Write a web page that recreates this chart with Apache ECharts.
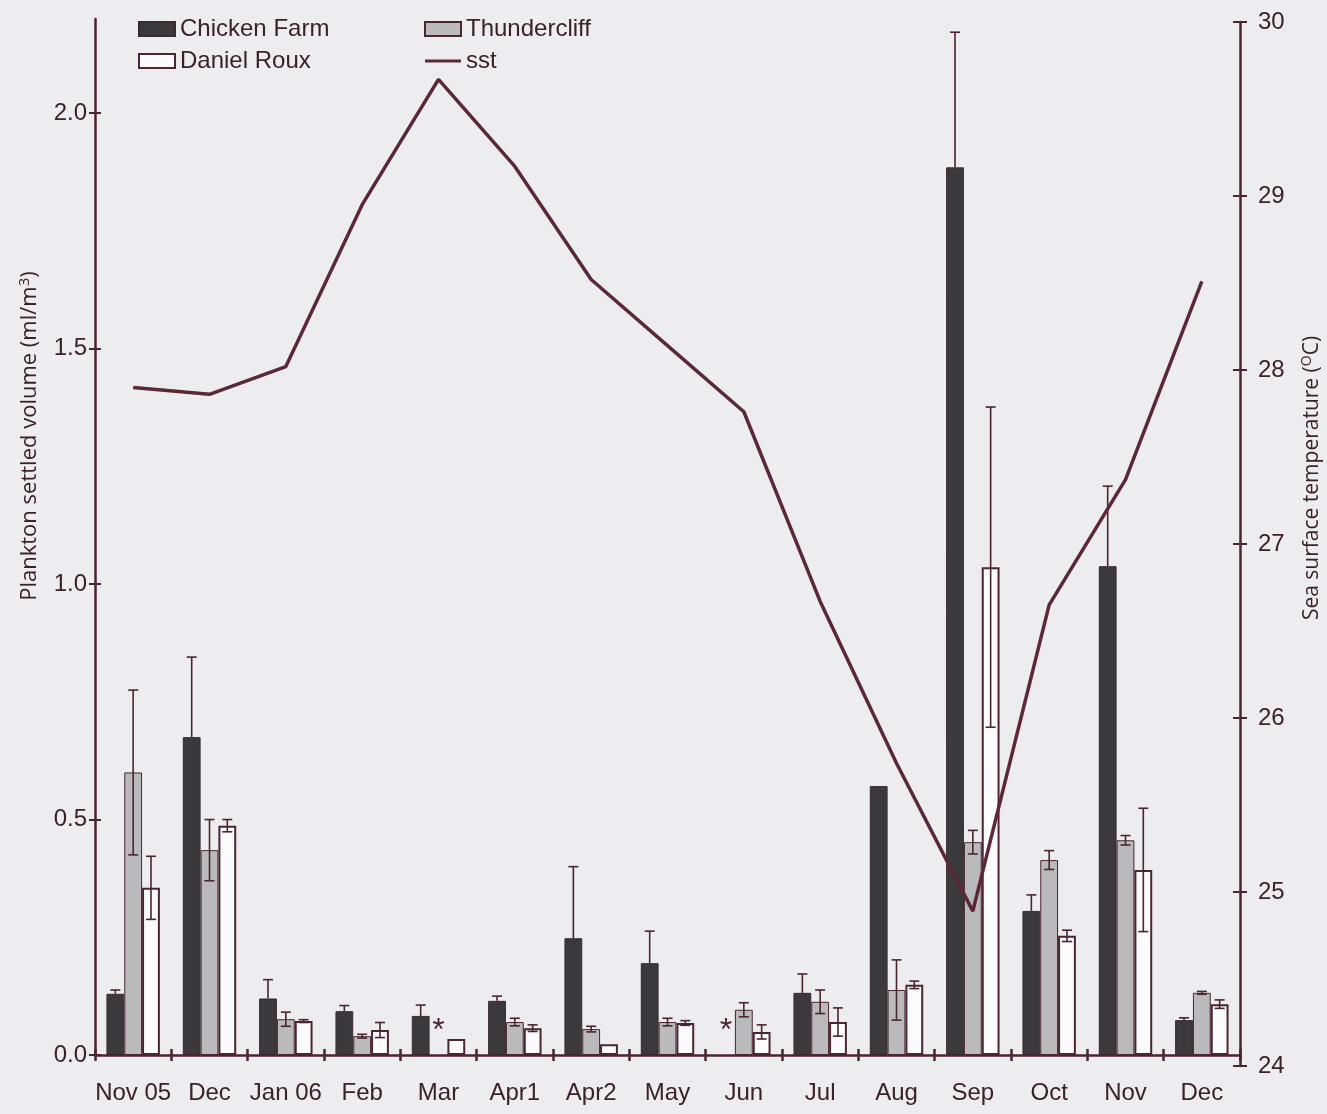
<!DOCTYPE html>
<html>
<head>
<meta charset="utf-8">
<title>Plankton settled volume and SST</title>
<script src="https://cdn.jsdelivr.net/npm/echarts@6/dist/echarts.min.js"></script>
<style>
  html, body { margin: 0; padding: 0; background: #edecf1; }
  #chart { width: 1327px; height: 1114px; }
</style>
</head>
<body>
<div id="chart"></div>
<script>
// Sampling periods
const months = ['Nov 05', 'Dec', 'Jan 06', 'Feb', 'Mar', 'Apr1', 'Apr2', 'May', 'Jun', 'Jul', 'Aug', 'Sep', 'Oct', 'Nov', 'Dec'];

// Mean plankton settled volume (ml/m3) per site, with standard errors
const chickenFarm   = [0.130, 0.675, 0.120, 0.093, 0.083, 0.115, 0.248, 0.195, null, 0.132, 0.571, 1.885, 0.306, 1.038, 0.074];
const chickenFarmSE = [0.008, 0.170, 0.040, 0.012, 0.023, 0.010, 0.152, 0.068, null, 0.040, 0.000, 0.287, 0.034, 0.170, 0.005];
const thundercliff   = [0.600, 0.435, 0.076, 0.040, null, 0.070, 0.055, 0.070, 0.096, 0.113, 0.138, 0.452, 0.414, 0.456, 0.132];
const thundercliffSE = [0.175, 0.065, 0.015, 0.004, null, 0.008, 0.006, 0.008, 0.015, 0.025, 0.064, 0.025, 0.020, 0.010, 0.003];
const danielRoux   = [0.355, 0.487, 0.072, 0.053, 0.034, 0.057, 0.023, 0.068, 0.049, 0.070, 0.149, 1.036, 0.253, 0.393, 0.108];
const danielRouxSE = [0.067, 0.013, 0.003, 0.016, 0.000, 0.007, 0.000, 0.005, 0.015, 0.030, 0.008, 0.340, 0.012, 0.131, 0.009];

// Sea surface temperature (°C)
const sst = [27.90, 27.86, 28.02, 28.95, 29.67, 29.17, 28.52, 28.14, 27.76, 26.67, 25.74, 24.89, 26.65, 27.37, 28.51];

// Tick labels
const volumeTicks = [0, 0.5, 1.0, 1.5, 2.0];
const tempTicks = [24, 25, 26, 27, 28, 29, 30];

// Samples not collected: [period index, site slot]
const notSampled = [[4, 1], [8, 0]];

const INK = '#4b2530';
const LINE = '#5a2836';
const TEXT = '#3a2228';
const CAT_GAP = 0.30;
const FONT = '"Liberation Sans", Arial, sans-serif';
const NAME_FONT = '"Open Sans", "Noto Sans", sans-serif';

// Error bar rows: [period index, site slot, mean, se, upper only]
function errRows(vals, ses, slot, upOnly) {
  const rows = [];
  vals.forEach((v, i) => {
    if (v != null && ses[i] != null && ses[i] > 0) rows.push([i, slot, v, ses[i], upOnly ? 1 : 0]);
  });
  return rows;
}
const errorData = []
  .concat(errRows(chickenFarm, chickenFarmSE, 0, true))
  .concat(errRows(thundercliff, thundercliffSE, 1, false))
  .concat(errRows(danielRoux, danielRouxSE, 2, false));

function slotX(api, ci, v, slot) {
  const band = api.size([1, 0])[0];
  const bw = band * (1 - CAT_GAP) / 3;
  return api.coord([ci, v])[0] + (slot - 1) * bw;
}

function renderError(params, api) {
  const ci = api.value(0), slot = api.value(1), v = api.value(2), e = api.value(3), up = api.value(4);
  const x = slotX(api, ci, v, slot);
  const yTop = api.coord([ci, v + e])[1];
  const yBot = api.coord([ci, up ? v : Math.max(0, v - e)])[1];
  const cap = 5;
  const style = { stroke: INK, lineWidth: 1.6, fill: null };
  const children = [
    { type: 'line', shape: { x1: x, y1: yTop, x2: x, y2: yBot }, style },
    { type: 'line', shape: { x1: x - cap, y1: yTop, x2: x + cap, y2: yTop }, style }
  ];
  if (!up) children.push({ type: 'line', shape: { x1: x - cap, y1: yBot, x2: x + cap, y2: yBot }, style });
  return { type: 'group', children };
}

function renderStar(params, api) {
  const ci = api.value(0), slot = api.value(1);
  const x = slotX(api, ci, 0, slot);
  const y = api.coord([ci, 0])[1];
  return {
    type: 'text',
    x: x, y: y - 24,
    style: { text: '*', fill: INK, font: '32px ' + FONT, align: 'center', verticalAlign: 'middle' }
  };
}

const chart = echarts.init(document.getElementById('chart'));

const legendText = { fontSize: 24, color: TEXT, fontFamily: FONT, lineHeight: 24 };
const lineIcon = 'path://M0,0 L40,0 L40,3.5 L0,3.5 Z';

const option = {
  backgroundColor: '#edecf1',
  animation: false,
  textStyle: { fontFamily: FONT, color: TEXT },
  grid: [
    { left: 95, right: 87, top: 19, bottom: 59 },
    { left: 95, right: 87, top: 22, bottom: 48 }
  ],
  legend: [
    {
      left: 133, top: 12, orient: 'vertical', itemGap: 8,
      itemWidth: 36, itemHeight: 14, icon: 'rect',
      data: ['Chicken Farm', 'Daniel Roux'],
      textStyle: legendText
    },
    {
      left: 419, top: 12, orient: 'vertical', itemGap: 8,
      itemWidth: 36, itemHeight: 14,
      data: [{ name: 'Thundercliff', icon: 'rect' }, { name: 'sst', icon: lineIcon }],
      textStyle: legendText
    }
  ],
  xAxis: [
    {
      type: 'category', gridIndex: 0, data: months, position: 'bottom',
      axisLine: { lineStyle: { color: INK, width: 2.5 } },
      axisTick: { show: true, length: 6, lineStyle: { color: INK, width: 2.5 } },
      axisLabel: { fontSize: 24, color: TEXT, margin: 26, interval: 0, fontFamily: FONT },
      splitLine: { show: false }
    },
    {
      type: 'category', gridIndex: 0, data: months, position: 'bottom',
      axisLine: { show: false },
      axisTick: { show: true, inside: true, length: 6, lineStyle: { color: INK, width: 2.5 } },
      axisLabel: { show: false },
      splitLine: { show: false }
    },
    {
      type: 'category', gridIndex: 1, data: months, show: false
    }
  ],
  yAxis: [
    {
      type: 'value', gridIndex: 0, position: 'left', min: 0, max: 2.2,
      axisLine: { show: true, lineStyle: { color: INK, width: 2.5 } },
      axisTick: { show: true, length: 6, customValues: volumeTicks, lineStyle: { color: INK, width: 2 } },
      axisLabel: {
        fontSize: 24, color: TEXT, margin: 8, fontFamily: FONT,
        customValues: volumeTicks, formatter: v => v.toFixed(1)
      },
      splitLine: { show: false }
    },
    {
      type: 'value', gridIndex: 0, position: 'left', min: 0, max: 2.2,
      axisLine: { show: false },
      axisTick: { show: true, inside: true, length: 6, customValues: volumeTicks, lineStyle: { color: INK, width: 2 } },
      axisLabel: { show: false },
      splitLine: { show: false }
    },
    {
      type: 'value', gridIndex: 1, position: 'right', min: 24, max: 30, interval: 1,
      axisLine: { show: true, lineStyle: { color: INK, width: 2.5 } },
      axisTick: { show: true, length: 7, customValues: tempTicks, lineStyle: { color: INK, width: 2 } },
      axisLabel: { fontSize: 24, color: TEXT, margin: 18, fontFamily: FONT, customValues: tempTicks },
      splitLine: { show: false }
    },
    {
      type: 'value', gridIndex: 1, position: 'right', min: 24, max: 30, interval: 1,
      axisLine: { show: false },
      axisTick: { show: true, inside: true, length: 7, customValues: tempTicks, lineStyle: { color: INK, width: 2 } },
      axisLabel: { show: false },
      splitLine: { show: false }
    }
  ],
  graphic: [
    {
      type: 'text', x: 30, y: 436, rotation: Math.PI / 2,
      style: {
        text: 'Plankton settled volume (ml/m{sup|3})',
        font: '22px ' + NAME_FONT,
        fill: TEXT, align: 'center', verticalAlign: 'middle',
        rich: { sup: { fontSize: 15, verticalAlign: 'top', padding: [0, 0, 10, 0], fontFamily: NAME_FONT, fill: TEXT } }
      }
    },
    {
      type: 'text', x: 1312, y: 478, rotation: Math.PI / 2,
      style: {
        text: 'Sea surface temperature ({sup|O}C)',
        font: '21px ' + NAME_FONT,
        fill: TEXT, align: 'center', verticalAlign: 'middle',
        rich: { sup: { fontSize: 14, verticalAlign: 'top', padding: [0, 0, 10, 0], fontFamily: NAME_FONT, fill: TEXT } }
      }
    }
  ],
  series: [
    {
      name: 'Chicken Farm', type: 'bar', xAxisIndex: 0, yAxisIndex: 0,
      data: chickenFarm, barGap: '0%', barCategoryGap: (CAT_GAP * 100) + '%',
      itemStyle: { color: '#3b393d', borderColor: '#3a2a30', borderWidth: 1 }
    },
    {
      name: 'Thundercliff', type: 'bar', xAxisIndex: 0, yAxisIndex: 0,
      data: thundercliff, barGap: '0%', barCategoryGap: (CAT_GAP * 100) + '%',
      itemStyle: { color: '#b9b9be', borderColor: INK, borderWidth: 1 }
    },
    {
      name: 'Daniel Roux', type: 'bar', xAxisIndex: 0, yAxisIndex: 0,
      data: danielRoux, barGap: '0%', barCategoryGap: (CAT_GAP * 100) + '%',
      itemStyle: { color: '#fbfbfd', borderColor: INK, borderWidth: 2 }
    },
    {
      name: 'errors', type: 'custom', xAxisIndex: 0, yAxisIndex: 0,
      data: errorData, renderItem: renderError, z: 3, silent: true
    },
    {
      name: 'not sampled', type: 'custom', xAxisIndex: 0, yAxisIndex: 0,
      data: notSampled, renderItem: renderStar, z: 3, silent: true
    },
    {
      name: 'sst', type: 'line', xAxisIndex: 2, yAxisIndex: 2,
      data: sst, symbol: 'none', z: 4,
      lineStyle: { color: LINE, width: 3.5 },
      itemStyle: { color: LINE }
    }
  ]
};

chart.setOption(option);
</script>
</body>
</html>
